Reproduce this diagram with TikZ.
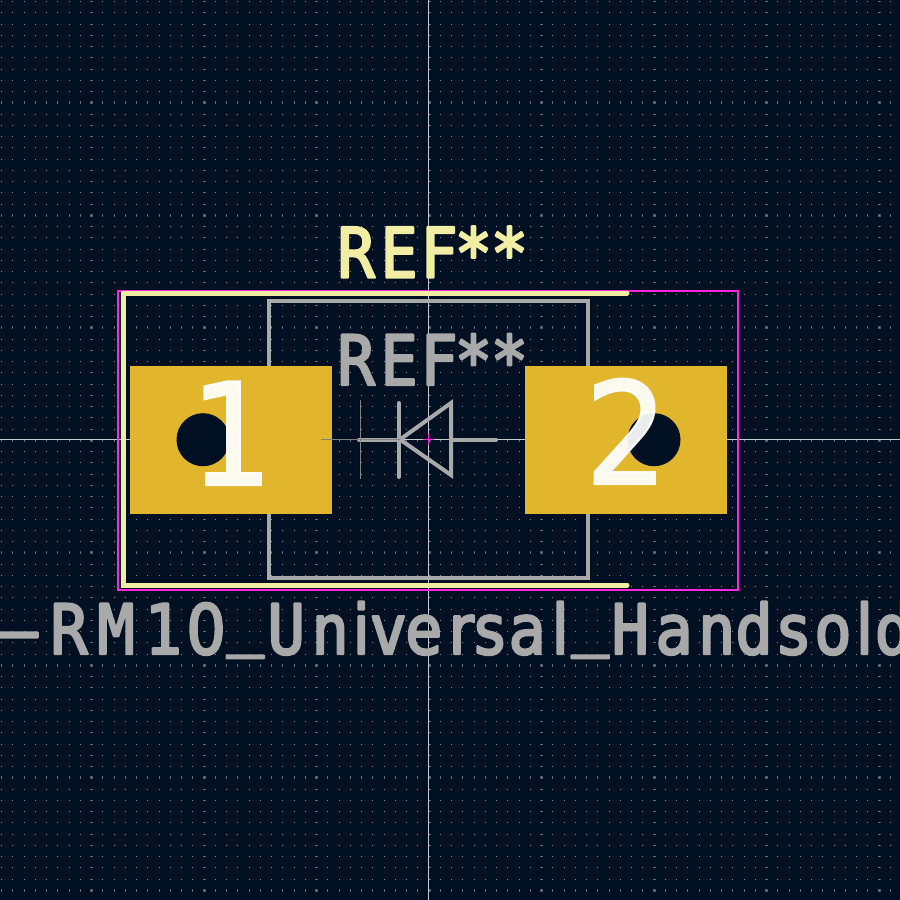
\documentclass[tikz,border=0pt]{standalone}
\usepackage{fontspec}
\newfontfamily\stroke[FakeBold=3.5]{DejaVu Sans Mono}
\newfontfamily\plain[FakeBold=3.5]{DejaVu Sans}
\newfontfamily\padfont[FakeBold=1.5]{DejaVu Sans}
\definecolor{board}{HTML}{001023}
\definecolor{griddot}{HTML}{808A94}
\definecolor{gridbig}{HTML}{4E5966}
\definecolor{hair}{HTML}{C4CACE}
\definecolor{silk}{HTML}{F3EDA3}
\definecolor{fab}{HTML}{A9A9A9}
\definecolor{court}{HTML}{FF26E2}
\definecolor{copper}{HTML}{E1B52C}
\newcommand{\kk}[1]{\kern#1pt\relax}
\newcommand{\us}{\raisebox{12pt}{\_}}
\newcommand{\pl}[1]{{\plain\fontsize{69}{69}\selectfont #1}}
\tikzset{
	pad/.style={fill=copper, minimum width=202pt, minimum height=148pt, inner sep=0pt},
	hole/.style={fill=board},
	silkline/.style={draw=silk, line width=5pt, line cap=round, line join=miter},
	fabline/.style={draw=fab, line width=4pt, line cap=round, line join=miter},
	thinline/.style={draw=gray, line width=1pt},
	courtline/.style={draw=court, line width=2.3pt},
	label/.style={inner sep=0pt, anchor=base west, font=\stroke\fontsize{69}{69}\selectfont\special{pdf:code 1 J 1 j}, xscale=0.9},
	padnum/.style={inner sep=0pt, anchor=base, text=white, text opacity=0.92, xscale=0.92, font=\padfont\fontsize{142}{142}\selectfont}
}
\begin{document}
\begin{tikzpicture}[x=1pt, y=-1pt]
	% page is 900 by 900, one unit per pixel
	\useasboundingbox (0, 0) rectangle (900, 900);
	\clip (0, 0) rectangle (900, 900);
	\fill[board] (0, 0) rectangle (900, 900);

	% grid dots, every tenth column and row a bit larger
	\foreach \i in {8,18,...,78}
		\foreach \j in {0,...,79}
			\fill[gridbig] ({round(1 + 11.25*\i) - 1}, {round(1 + 11.25*\j)}) rectangle ++(3, 1);
	\foreach \j in {9,19,...,79}
		\foreach \i in {0,...,79}
			\fill[gridbig] ({round(1 + 11.25*\i)}, {round(1 + 11.25*\j) - 1}) rectangle ++(1, 3);
	\foreach \i in {8,18,...,78}
		\foreach \j in {9,19,...,79}
			\fill[gridbig] ({round(1 + 11.25*\i) - 1}, {round(1 + 11.25*\j) - 1}) rectangle ++(3, 3);
	\foreach \i in {0,...,79}
		\foreach \j in {0,...,79}
			\fill[griddot] ({round(1 + 11.25*\i)}, {round(1 + 11.25*\j)}) rectangle ++(1, 1);

	\coordinate (O) at (428.5, 439.5);
	\draw[hair, line width=1pt] (0, 439.5) -- (900, 439.5);
	\draw[hair, line width=1pt] (428.5, 0) -- (428.5, 900);

	% fabrication outline
	\draw[fabline] (269, 301) rectangle (588, 578);

	% courtyard and silkscreen
	\draw[courtline] (118, 291) rectangle (738, 590);
	\draw[silkline] (627, 293) -- (123, 293) -- (123, 585) -- (627, 585);

	% pads
	\node[pad] (pad1) at (231, 440) {};
	\node[pad] (pad2) at (626, 440) {};
	\fill[hole] (203, 439.7) circle (26.5);
	\fill[hole] (654, 439.7) circle (26.5);

	% diode symbol
	\coordinate (A) at (400, 439.5);
	\draw[fabline] (399, 403) -- (399, 477);
	\draw[fabline] (359, 439.5) -- (A);
	\draw[fabline] (A) -- (451, 403) -- (451, 475) -- cycle;
	\draw[fabline] (451, 439.5) -- (496, 439.5);
	\draw[thinline] (321, 439.5) -- (400, 439.5);
	\draw[thinline] (360.5, 400) -- (360.5, 479);

	% anchor cross
	\draw[court, line width=1.2pt] (423, 439.5) -- (434, 439.5);
	\draw[court, line width=1.2pt] (428.5, 434) -- (428.5, 445);

	% texts
	\node[label, text=silk] (refsilk) at (337.3, 277.5) {R\kk{6.2}E\kk{2.9}F\kk{-3.5}*\kk{-1.5}*};
	\node[label, text=fab] (reffab) at (337.3, 385) {R\kk{6.2}E\kk{2.9}F\kk{-3.5}*\kk{-1.5}*};
	\node[label, text=fab] (value) at (0.3, 654) {—\kk{14}R\kk{10.7}M\kk{10.7}1\kk{5}\pl{0}\kk{0.8}\us\kk{4}U\kk{7.3}n\kk{4.1}\pl{i}\kk{-0.3}v\kk{-2.1}e\kk{6.7}\pl{r}\kk{-3.3}s\kk{0}a\kk{6.3}\pl{l}\kk{3}\us\kk{2.9}H\kk{7.3}a\kk{5.7}n\kk{0}d\kk{2.3}s\kk{2.3}o\kk{4.7}\pl{l}\kk{1.9}d};
	\node[padnum] (num1) at (231.5, 485) {1};
	\node[padnum] (num2) at (626.5, 484) {2};
\end{tikzpicture}
\end{document}
